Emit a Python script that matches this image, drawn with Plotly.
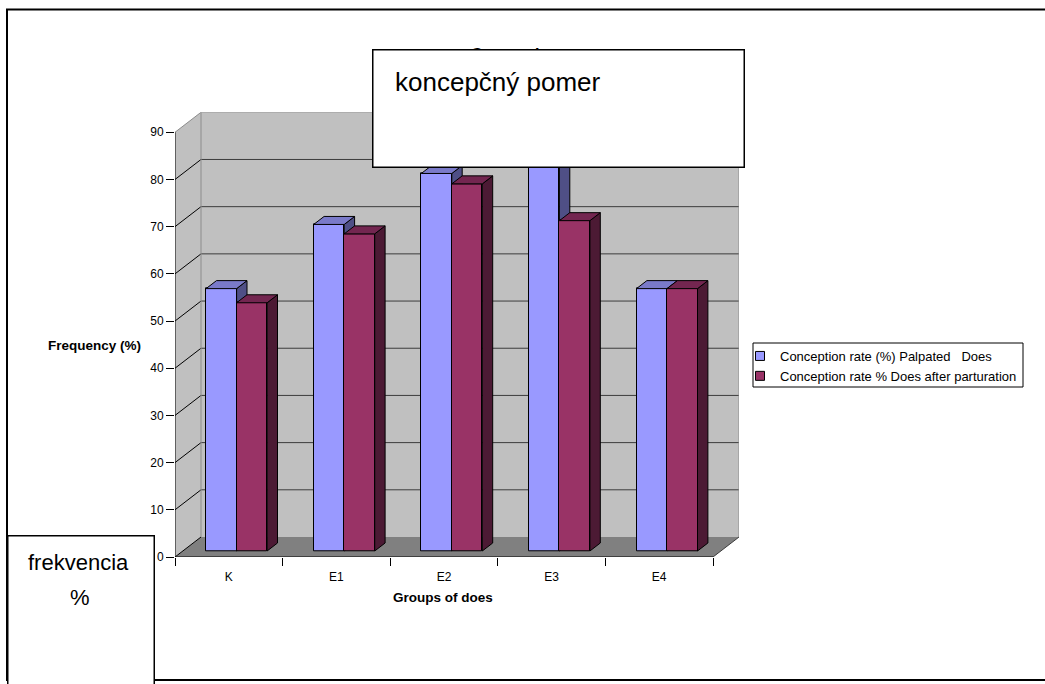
import plotly.graph_objects as go

# ---- data -------------------------------------------------------------
groups = ["K", "E1", "E2", "E3", "E4"]
palpated_does = [55.6, 69.2, 80.0, 87.5, 55.6]
does_after_parturition = [52.6, 67.2, 77.8, 70.0, 55.6]
series_names = [
    "Conception rate (%) Palpated\u00a0\u00a0\u00a0Does",
    "Conception rate % Does after parturation",
]
y_ticks = [0, 10, 20, 30, 40, 50, 60, 70, 80, 90]

# ---- styling / geometry of the pseudo-3D box ---------------------------
W, H = 1045, 684
FONT = "Arial, Liberation Sans, sans-serif"
FRONT_LEFT_PX = 175.0      # front value axis position
FRONT_ZERO_PX = 557.0      # front floor edge (value 0)
PX_PER_CAT = 107.6
PX_PER_UNIT = 4.719
DEPTH_PX = (26.0, 20.0)    # oblique depth offset of the back wall

DX = DEPTH_PX[0] / PX_PER_CAT
DY = DEPTH_PX[1] / PX_PER_UNIT
VMAX = y_ticks[-1]
N = len(groups)
X_LO, X_HI = -0.5, N - 0.5
BAR_W = 0.2835
BAR_FRONT, BAR_BACK = 0.3, 0.7
BASE = BAR_FRONT * DY
BDX, BDY = (BAR_BACK - BAR_FRONT) * DX, (BAR_BACK - BAR_FRONT) * DY

x_range = [X_LO, X_HI + DX]
y_range = [0, VMAX + DY]
x_dom = [FRONT_LEFT_PX / W, (FRONT_LEFT_PX + (x_range[1] - x_range[0]) * PX_PER_CAT) / W]
top_px = FRONT_ZERO_PX - y_range[1] * PX_PER_UNIT
y_dom = [1 - FRONT_ZERO_PX / H, 1 - top_px / H]

COLORS = {
    "blue": ("#9999FF", "#7A7AC9", "#4F4F86"),   # front, top, side
    "red": ("#993366", "#732650", "#4C1A34"),
}
WALL = "#C0C0C0"
FLOOR = "#808080"
EDGE = "#8C8C8C"


def px(x):
    return x / W


def py(y):
    return 1 - y / H


def poly(points):
    return "M " + " L ".join(f"{x:.4f},{y:.4f}" for x, y in points) + " Z"


def seg(p, q, color, width=1, layer="below"):
    return dict(type="line", xref="x", yref="y", x0=p[0], y0=p[1], x1=q[0], y1=q[1],
                line=dict(color=color, width=width), layer=layer)


def face(points, fill, layer):
    return dict(type="path", xref="x", yref="y", path=poly(points), fillcolor=fill,
                line=dict(color="black", width=1), layer=layer)


shapes = []
# outer chart frame
shapes.append(dict(type="rect", xref="paper", yref="paper",
                   x0=px(7), x1=px(1060), y0=py(680), y1=py(9.5),
                   line=dict(color="black", width=2), fillcolor="rgba(0,0,0,0)", layer="below"))
# legend frame
shapes.append(dict(type="rect", xref="paper", yref="paper",
                   x0=px(753), x1=px(1023), y0=py(387), y1=py(343),
                   line=dict(color="black", width=1), fillcolor="white", layer="below"))
# side wall, back wall, floor
shapes.append(dict(type="path", xref="x", yref="y", layer="below", fillcolor=WALL,
                   line=dict(width=0),
                   path=poly([(X_LO, 0), (X_LO, VMAX), (X_LO + DX, VMAX + DY), (X_LO + DX, DY)])))
shapes.append(dict(type="path", xref="x", yref="y", layer="below", fillcolor=WALL,
                   line=dict(width=0),
                   path=poly([(X_LO + DX, DY), (X_LO + DX, VMAX + DY), (X_HI + DX, VMAX + DY), (X_HI + DX, DY)])))
shapes.append(dict(type="path", xref="x", yref="y", layer="below", fillcolor=FLOOR,
                   line=dict(width=0),
                   path=poly([(X_LO, 0), (X_HI, 0), (X_HI + DX, DY), (X_LO + DX, DY)])))
# gridlines on the back wall and their diagonals on the side wall
for v in y_ticks:
    col = EDGE if v == VMAX else "#3C3C3C"
    if v > 0:
        shapes.append(seg((X_LO + DX, v + DY), (X_HI + DX, v + DY), col))
    shapes.append(seg((X_LO, v), (X_LO + DX, v + DY), EDGE if v == VMAX else "black"))
# box edges
shapes.append(seg((X_LO + DX, DY), (X_LO + DX, VMAX + DY), EDGE))
shapes.append(seg((X_HI + DX, DY), (X_HI + DX, VMAX + DY), EDGE))
shapes.append(seg((X_HI, 0), (X_HI + DX, DY), "#3C3C3C"))
shapes.append(seg((X_LO, 0), (X_HI, 0), "black"))
shapes.append(seg((X_LO, 0), (X_LO, VMAX), "black"))

# oblique faces of the columns
above = []
for i in range(N):
    for key, vals, left in (("blue", palpated_does, i - BAR_W + BAR_FRONT * DX),
                            ("red", does_after_parturition, i + BAR_FRONT * DX)):
        _, top_c, side_c = COLORS[key]
        xl, xr = left, left + BAR_W
        t = BASE + vals[i]
        top = face([(xl, t), (xr, t), (xr + BDX, t + BDY), (xl + BDX, t + BDY)], top_c, "above")
        side_layer = "below" if key == "blue" else "above"
        side = face([(xr, BASE), (xr, t), (xr + BDX, t + BDY), (xr + BDX, BASE + BDY)], side_c, side_layer)
        if side_layer == "below":
            shapes.append(side)
        else:
            above.append(side)
        above.append(top)
shapes.extend(above)

fig = go.Figure()
for key, vals, off, name in (("blue", palpated_does, -BAR_W + BAR_FRONT * DX, series_names[0]),
                             ("red", does_after_parturition, BAR_FRONT * DX, series_names[1])):
    fig.add_trace(go.Bar(
        x=groups, y=vals, base=BASE, offset=off, width=BAR_W,
        marker=dict(color=COLORS[key][0], line=dict(color="black", width=1)),
        showlegend=False, hoverinfo="skip", name=name,
    ))
# legend entries
for key, name in (("blue", series_names[0]), ("red", series_names[1])):
    fig.add_trace(go.Scatter(
        x=[None], y=[None], mode="markers", name=name,
        marker=dict(symbol="square", size=9, color=COLORS[key][0], line=dict(color="black", width=1)),
    ))


def label(x, y, text, size, bold=False, **kw):
    return dict(xref="paper", yref="paper", x=px(x), y=py(y),
                xanchor=kw.pop("xanchor", "center"), yanchor=kw.pop("yanchor", "middle"),
                text=f"<b>{text}</b>" if bold else text, showarrow=False,
                font=dict(family=FONT, size=size, color="black"), **kw)


annotations = [
    # chart title, mostly hidden behind the text box
    label(532, 55, "Conception rate", 16, bold=True),
    # text box over the title
    dict(xref="paper", yref="paper", x=px(372), y=py(49), xanchor="left", yanchor="top",
         text="\u00a0", width=370, height=116, borderpad=0, bgcolor="white",
         bordercolor="black", borderwidth=1.5, showarrow=False),
    label(393, 82, "koncepčný pomer", 26, xanchor="left"),
    # text box at lower left
    dict(xref="paper", yref="paper", x=px(6.5), y=py(535), xanchor="left", yanchor="top",
         text="\u00a0", width=145, height=170, borderpad=0, bgcolor="white",
         bordercolor="black", borderwidth=1.5, showarrow=False),
    label(78, 562, "frekvencia", 22),
    label(80, 597, "%", 22),
    # axis titles
    label(94, 345, "Frequency (%)", 13.5, bold=True),
    label(443, 597, "Groups of does", 13.5, bold=True),
]

fig.update_layout(
    width=W, height=H, template="none",
    margin=dict(l=0, r=0, t=0, b=0),
    paper_bgcolor="white", plot_bgcolor="rgba(0,0,0,0)",
    barmode="overlay", bargap=0,
    font=dict(family=FONT, size=12, color="black"),
    xaxis=dict(type="category", categoryorder="array", categoryarray=groups,
               range=x_range, domain=x_dom, tickson="boundaries", ticks="outside",
               ticklen=8, tickcolor="black", tickwidth=1, showline=False, showgrid=False,
               zeroline=False, tickfont=dict(family=FONT, size=12), automargin=False,
               ticklabelstandoff=11, fixedrange=True),
    yaxis=dict(range=y_range, domain=y_dom, tickvals=y_ticks, ticks="outside", ticklen=8,
               tickcolor="black", tickwidth=1, showline=False, showgrid=False, zeroline=False,
               tickfont=dict(family=FONT, size=12), automargin=False, fixedrange=True),
    legend=dict(x=px(753), y=py(341), xanchor="left", yanchor="top",
                bgcolor="rgba(0,0,0,0)", borderwidth=0, indentation=-13,
                font=dict(family=FONT, size=13, color="black"), itemwidth=30,
                tracegroupgap=0),
    shapes=shapes,
    annotations=annotations,
    showlegend=True,
)

fig.write_html("out.html")
